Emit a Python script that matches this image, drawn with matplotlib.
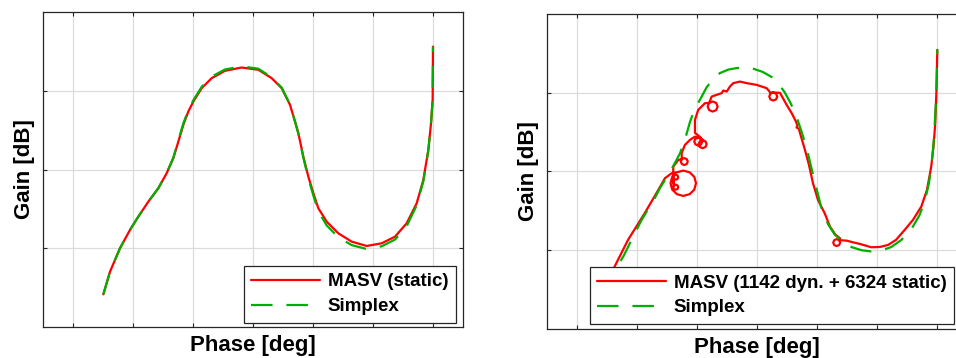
import matplotlib
matplotlib.use("Agg")
import matplotlib.pyplot as plt

plt.rcParams['font.family'] = ['Liberation Sans', 'DejaVu Sans']
plt.rcParams['lines.scale_dashes'] = False

# ---------------- data (left panel: static) ----------------
left_x = [0.506, 0.617, 0.783, 0.95, 1.089, 1.256, 1.422, 1.561, 1.672, 1.756, 1.839, 1.922, 2.006, 2.145,
          2.311, 2.533, 2.811, 3.089, 3.311, 3.478, 3.617, 3.70, 3.756, 3.839, 3.922, 4.006, 4.089, 4.228,
          4.422, 4.644, 4.895, 5.145, 5.367, 5.561, 5.728, 5.839, 5.922, 5.967, 5.994, 6.0]
left_masv_y = [0.415, 0.703, 1.000, 1.233, 1.402, 1.592, 1.762, 1.953, 2.143, 2.355, 2.567, 2.736, 2.863, 3.033,
               3.160, 3.253, 3.295, 3.266, 3.160, 3.033, 2.821, 2.609, 2.461, 2.164, 1.910, 1.699, 1.508, 1.338,
               1.190, 1.084, 1.029, 1.063, 1.147, 1.317, 1.571, 1.868, 2.249, 2.588, 2.884, 3.56]
left_simplex_y = [0.415, 0.703, 1.000, 1.233, 1.402, 1.592, 1.762, 1.955, 2.15, 2.37, 2.585, 2.755, 2.88, 3.05,
                  3.18, 3.27, 3.31, 3.28, 3.17, 3.04, 2.825, 2.61, 2.455, 2.15, 1.89, 1.67, 1.47, 1.29,
                  1.14, 1.04, 0.99, 1.025, 1.11, 1.28, 1.545, 1.85, 2.24, 2.585, 2.884, 3.56]

# ---------------- data (right panel: dynamic + static, with loops) ----------------
right_masv_x = [0.50, 0.62, 0.845, 1.123, 1.350, 1.461, 1.573,
                1.660, 1.766, 1.872, 1.950, 1.978, 1.950, 1.872, 1.766, 1.660, 1.582, 1.554, 1.582,
                1.610, 1.640, 1.670, 1.682, 1.670, 1.640, 1.610, 1.598, 1.610,
                1.598, 1.610, 1.640, 1.670, 1.682, 1.670, 1.640, 1.610, 1.598,
                1.600, 1.683,
                1.742, 1.783, 1.824, 1.841, 1.824, 1.783, 1.742, 1.725, 1.742,
                1.739, 1.794, 1.878, 1.961,
                2.016, 2.063, 2.083, 2.063, 2.016, 1.969, 1.949, 1.969, 2.016,
                2.089, 2.136, 2.156, 2.136, 2.089, 2.042, 2.022, 2.042, 2.089,
                2.044, 1.961, 1.961, 2.016, 2.128,
                2.197, 2.256, 2.315, 2.339, 2.315, 2.256, 2.197, 2.173, 2.197,
                2.240, 2.323, 2.406, 2.433, 2.490, 2.544, 2.600, 2.711, 2.823, 2.990, 3.156, 3.219,
                3.266, 3.313, 3.333, 3.313, 3.266, 3.219, 3.199, 3.219, 3.266,
                3.378, 3.489, 3.573, 3.644, 3.670, 3.653, 3.694, 3.711, 3.794, 3.861, 3.928, 4.011, 4.123,
                4.211, 4.300, 4.378,
                4.364, 4.381, 4.364, 4.323, 4.282, 4.265, 4.282, 4.323, 4.364,
                4.489, 4.600, 4.711, 4.900, 5.044, 5.178, 5.311, 5.456, 5.594, 5.733, 5.828, 5.899, 5.939,
                5.966, 5.986, 6.0]
right_masv_y = [0.45, 0.79, 1.131, 1.470, 1.766, 1.915, 1.978,
                1.990, 2.012, 1.990, 1.932, 1.851, 1.770, 1.712, 1.690, 1.712, 1.770, 1.851, 1.932,
                1.824, 1.833, 1.824, 1.801, 1.778, 1.769, 1.778, 1.801, 1.824,
                1.928, 1.951, 1.960, 1.951, 1.928, 1.905, 1.896, 1.905, 1.928,
                2.062, 2.147,
                2.157, 2.170, 2.157, 2.126, 2.095, 2.082, 2.095, 2.126, 2.157,
                2.233, 2.338, 2.402, 2.443,
                2.431, 2.416, 2.380, 2.344, 2.329, 2.344, 2.380, 2.416, 2.431,
                2.398, 2.383, 2.347, 2.311, 2.296, 2.311, 2.347, 2.383, 2.398,
                2.440, 2.490, 2.656, 2.783, 2.868,
                2.870, 2.889, 2.870, 2.825, 2.780, 2.761, 2.780, 2.825, 2.870,
                2.952, 2.973, 2.995, 3.028, 3.015, 3.079, 3.122, 3.142, 3.122, 3.100, 3.058, 3.000,
                3.003, 2.988, 2.952, 2.916, 2.901, 2.916, 2.952, 2.988, 3.003,
                2.999, 2.846, 2.741, 2.634, 2.579, 2.560, 2.541, 2.490, 2.274, 2.084, 1.851, 1.639, 1.470,
                1.300, 1.200, 1.152,
                1.128, 1.097, 1.066, 1.053, 1.066, 1.097, 1.128, 1.141, 1.128,
                1.122, 1.100, 1.080, 1.038, 1.042, 1.067, 1.131, 1.258, 1.385, 1.554, 1.766, 2.062, 2.338,
                2.614, 3.037, 3.545]
right_simplex_x = [0.50, 0.65, 0.767, 0.955, 1.072, 1.29, 1.378, 1.565, 1.711, 1.80, 1.878, 1.96, 2.044, 2.156,
                   2.27, 2.378, 2.52, 2.656, 2.80, 2.933, 3.09, 3.239, 3.36, 3.461, 3.56, 3.656, 3.74, 3.822, 3.90,
                   3.961, 4.07, 4.18, 4.29, 4.43, 4.57, 4.74, 4.90, 5.06, 5.23, 5.40, 5.57, 5.70, 5.79, 5.86, 5.90,
                   5.935, 5.955, 5.975, 5.99, 6.0]
right_simplex_y = [0.45, 0.78, 0.92, 1.21, 1.385, 1.66, 1.79, 2.02, 2.23, 2.42, 2.63, 2.80, 2.91, 3.07,
                   3.18, 3.25, 3.295, 3.313, 3.32, 3.305, 3.265, 3.20, 3.11, 3.00, 2.86, 2.69, 2.50, 2.30, 2.05,
                   1.86, 1.53, 1.33, 1.20, 1.10, 1.04, 1.00, 0.985, 0.995, 1.04, 1.13, 1.27, 1.44, 1.62, 1.85, 2.06,
                   2.33, 2.57, 2.85, 3.15, 3.545]

legend_left = ["MASV (static)", "Simplex"]
legend_right = ["MASV (1142 dyn. + 6324 static)", "Simplex"]
x_label = "Phase [deg]"
y_label = "Gain [dB]"

RED = "#ff0000"
GREEN = "#00b000"
AX_COL = "#262626"

fig = plt.figure(figsize=(9.56, 3.58), dpi=100)
ax1 = fig.add_axes([43 / 956, 31 / 358, 420 / 956, 315 / 358])
ax2 = fig.add_axes([547.3 / 956, 29 / 358, 420 / 956, 315 / 358])


def style(ax):
    ax.set_xlim(-0.5, 6.5)
    ax.set_ylim(0, 4)
    ax.set_xticks(range(0, 7))
    ax.set_yticks([1, 2, 3])
    ax.tick_params(direction='in', length=3, width=0.8, colors=AX_COL,
                   top=True, right=True, labelbottom=False, labelleft=False)
    ax.grid(True, color='#dcdcdc', linewidth=0.9)
    ax.set_axisbelow(True)
    for s in ax.spines.values():
        s.set_color(AX_COL)
        s.set_linewidth(0.9)
    ax.set_xlabel(x_label, fontsize=16, fontweight='bold', labelpad=6)
    ax.set_ylabel(y_label, fontsize=16, fontweight='bold', labelpad=6)


for ax, mx, my, sx, sy, labels, loc, anchor in [
    (ax1, left_x, left_masv_y, left_x, left_simplex_y, legend_left, 'lower right', (0.983, 0.014)),
    (ax2, right_masv_x, right_masv_y, right_simplex_x, right_simplex_y, legend_right, 'lower left', (0.101, 0.016)),
]:
    style(ax)
    ax.plot(mx, my, color=RED, linewidth=1.6, label=labels[0], zorder=3,
            solid_joinstyle='round', solid_capstyle='round')
    ln, = ax.plot(sx, sy, color=GREEN, linewidth=1.6, label=labels[1], zorder=4)
    ln.set_dashes([15.5, 10])
    leg = ax.legend(loc=loc, bbox_to_anchor=anchor, borderaxespad=0,
                    prop={'size': 13.5, 'weight': 'bold'}, handlelength=3.68, handletextpad=0.41,
                    labelspacing=0.4, borderpad=0.4, fancybox=False, framealpha=1,
                    edgecolor=AX_COL)
    leg.get_frame().set_linewidth(0.9)
    leg.set_zorder(10)

fig.savefig("out.png", dpi=100)
